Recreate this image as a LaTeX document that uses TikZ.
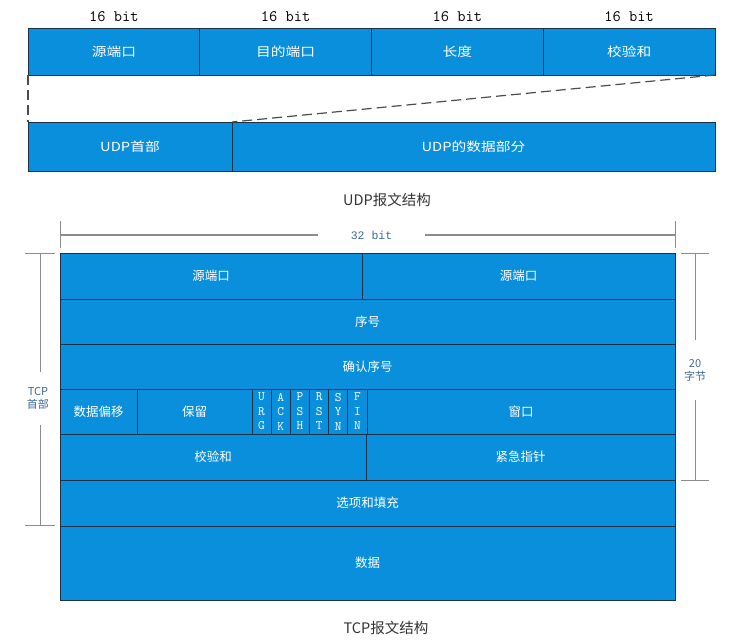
\documentclass[tikz,border=0pt]{standalone}
\usepackage{fontspec}
\usetikzlibrary{positioning}
\setmainfont{Liberation Sans}
\newfontfamily\cjk{Noto Sans CJK SC}
\newfontfamily\cjkwide[FakeStretch=1.18]{Noto Sans CJK SC}
\newfontfamily\bitfont{Liberation Mono}
\definecolor{pktblue}{RGB}{10,143,220}
\definecolor{pktline}{RGB}{25,50,72}
\definecolor{dimgray}{RGB}{140,140,140}
\definecolor{dimtext}{RGB}{61,106,148}
\begin{document}
\begin{tikzpicture}[x=1pt, y=-1pt,
	cell/.style={draw=pktline, line width=0.9pt, fill=pktblue, text=white, anchor=north west, inner sep=0pt, outer sep=0pt, font=\fontsize{12.5}{14}\cjk},
	ucell/.style={cell, font=\fontsize{12.5}{14}\cjkwide},
	flagcell/.style={cell, minimum width=19.17pt, minimum height=45pt, align=center, font=\fontsize{13}{14.5}\ttfamily},
	bitlbl/.style={font=\fontsize{16}{18}\ttfamily, inner sep=0pt},
	caption/.style={font=\fontsize{14.5}{16}\cjk, text=black!80},
	sidelbl/.style={font=\fontsize{11}{13}\cjk, text=dimtext, align=center, inner xsep=0pt},
	dimline/.style={draw=dimgray, line width=1.3pt},
	gapline/.style={line width=1.2pt, dash pattern=on 10pt off 5pt, black!70}]
	\useasboundingbox (0, 0) rectangle (750, 643);
	% UDP
		\node [ucell, minimum width=171.75pt, minimum height=47pt] (usrc) at (28, 28) {源端口};
		\node [ucell, minimum width=171.75pt, minimum height=47pt] (udst) at (usrc.north east) {目的端口};
		\node [ucell, minimum width=171.75pt, minimum height=47pt] (ulen) at (udst.north east) {长度};
		\node [ucell, minimum width=171.75pt, minimum height=47pt] (uchk) at (ulen.north east) {校验和};
		\node [bitlbl, above=6pt of usrc] (ubit1) {16 bit};
		\node [bitlbl, above=6pt of udst] (ubit2) {16 bit};
		\node [bitlbl, above=6pt of ulen] (ubit3) {16 bit};
		\node [bitlbl, above=6pt of uchk] (ubit4) {16 bit};
		\node [ucell, minimum width=204pt, minimum height=49pt] (uhead) at (28, 122) {UDP首部};
		\node [ucell, minimum width=483pt, minimum height=49pt] (udata) at (uhead.north east) {UDP的数据部分};
		\draw[gapline] (usrc.south west) to (uhead.north west);
		\draw[gapline] (uchk.south east) to (udata.north west);
		\node [caption] (ucap) at (387, 200) {UDP报文结构};
	% TCP
		\node [cell, minimum width=302pt, minimum height=46pt] (tsrc) at (60, 253) {源端口};
		\node [cell, minimum width=313pt, minimum height=46pt] (tdst) at (tsrc.north east) {源端口};
		\node [cell, minimum width=615pt, minimum height=45pt] (tseq) at (tsrc.south west) {序号};
		\node [cell, minimum width=615pt, minimum height=45pt] (tack) at (tseq.south west) {确认序号};
		\node [cell, minimum width=77pt, minimum height=45pt] (toff) at (tack.south west) {数据偏移};
		\node [cell, minimum width=115pt, minimum height=45pt] (tres) at (toff.north east) {保留};
		\foreach \f [count=\i from 0] in {U\\R\\G, A\\C\\K, P\\S\\H, R\\S\\T, S\\Y\\N, F\\I\\N}
			\node [flagcell] (flag\i) at (252+19.17*\i, 389) {\f};
		\node [cell, minimum width=308pt, minimum height=45pt] (twin) at (flag5.north east) {窗口};
		\node [cell, minimum width=306pt, minimum height=46pt] (tchk) at (toff.south west) {校验和};
		\node [cell, minimum width=309pt, minimum height=46pt] (turg) at (tchk.north east) {紧急指针};
		\node [cell, minimum width=615pt, minimum height=46pt] (topt) at (tchk.south west) {选项和填充};
		\node [cell, minimum width=615pt, minimum height=74pt] (tdata) at (topt.south west) {数据};
		\node [caption] (tcap) at (386, 628) {TCP报文结构};
	% 32 bit
		\node [font=\fontsize{11.5}{13}\bitfont, text=dimtext, inner xsep=33pt] (tbit) at (371.5, 235) {32 bit};
		\coordinate (wl) at (tsrc.north west |- tbit);
		\coordinate (wr) at (tdst.north east |- tbit);
		\draw[dimline] (wl) to (tbit.west);
		\draw[dimline] (tbit.east) to (wr);
		\draw[dimline, semithick] ([yshift=-13pt]wl) to ([yshift=14pt]wl);
		\draw[dimline, semithick] ([yshift=-13pt]wr) to ([yshift=14pt]wr);
	% TCP首部
		\node [sidelbl, inner ysep=15pt] (thdr) at (38, 398.5) {TCP\\首部};
		\coordinate (hl1) at (40, 253);
		\coordinate (hl2) at (40, 525);
		\draw[dimline, semithick] ([xshift=-15pt]hl1) to ([xshift=15pt]hl1);
		\draw[dimline, semithick] (hl1) to (hl1 |- thdr.north);
		\draw[dimline, semithick] (hl2 |- thdr.south) to (hl2);
		\draw[dimline, semithick] ([xshift=-15pt]hl2) to ([xshift=15pt]hl2);
	% 20字节
		\node [sidelbl, inner ysep=19pt] (tlen) at (695, 370) {20\\字节};
		\coordinate (hr1) at (695, 253);
		\coordinate (hr2) at (695, 480);
		\draw[dimline, semithick] ([xshift=-14pt]hr1) to ([xshift=14pt]hr1);
		\draw[dimline, semithick] (hr1) to (hr1 |- tlen.north);
		\draw[dimline, semithick] (hr2 |- tlen.south) to (hr2);
		\draw[dimline, semithick] ([xshift=-14pt]hr2) to ([xshift=14pt]hr2);
\end{tikzpicture}
\end{document}
